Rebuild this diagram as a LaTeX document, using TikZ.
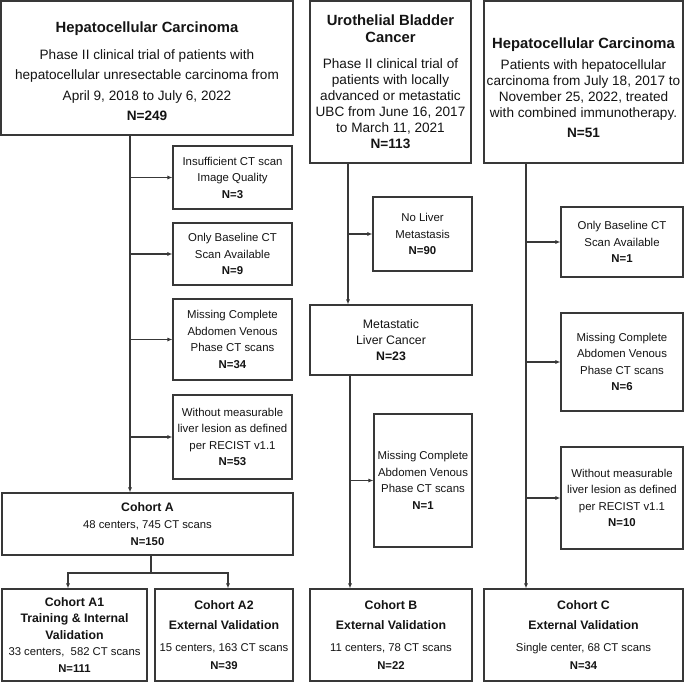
\documentclass[tikz,border=0pt]{standalone}
\usepackage{fontspec}
\setmainfont{Liberation Sans}
\usetikzlibrary{arrows.meta}
\newcommand{\fs}[2]{\fontsize{#1bp}{#2bp}\selectfont}
\tikzset{
  box/.style={draw=black!78, line width=1.1bp, fill=white, inner sep=0pt, align=center, text=black!92},
  txt/.style={inner sep=0pt, align=center, text=black!92},
  conn/.style={draw=black!78, line width=1.1bp},
  arr/.style={conn, -{Latex[length=5bp,width=4bp]}},
  exbox/.style={box, font=\fs{11.4}{16.5}},
}
\begin{document}
\begin{tikzpicture}[x=1bp,y=-1bp]
\useasboundingbox (0,0) rectangle (685,682);
% top boxes
\node[box, minimum width=292bp, minimum height=134bp] (hccL) at (147,68) {};
\node[txt, font=\fs{13.6}{20.5}] (hccLt) at ([yshift=-3bp]hccL.center)
 {{\fs{14.8}{20.5}\bfseries Hepatocellular Carcinoma}\\[6.5bp]
  Phase II clinical trial of patients with\\
  hepatocellular unresectable carcinoma from\\
  April 9, 2018 to July 6, 2022\\
  \bfseries N=249};
\node[box, minimum width=161bp, minimum height=162bp, font=\fs{13.6}{16}] (ubc) at (390.5,82)
 {{\fs{14.8}{16}\bfseries Urothelial Bladder}\\[1bp]
  {\fs{14.8}{16}\bfseries Cancer}\\[10bp]
  Phase II clinical trial of\\
  patients with locally\\
  advanced or metastatic\\
  UBC from June 16, 2017\\
  to March 11, 2021\\
  \bfseries N=113};
\node[box, minimum width=199bp, minimum height=162bp] (hccR) at (583.5,82) {};
\node[txt, font=\fs{13.6}{16}] (hccRt) at ([yshift=-6bp]hccR.center)
 {{\fs{14.8}{16}\bfseries Hepatocellular Carcinoma}\\[5bp]
  Patients with hepatocellular\\
  carcinoma from July 18, 2017 to\\
  November 25, 2022, treated\\
  with combined immunotherapy.\\[4bp]
  \bfseries N=51};
% left exclusions
\node[exbox, minimum width=119bp, minimum height=63bp] (L1) at (232.5,177.5)
 {Insufficient CT scan\\ Image Quality\\ \bfseries N=3};
\node[exbox, minimum width=119bp, minimum height=62bp] (L2) at (232.5,254)
 {Only Baseline CT\\ Scan Available\\ \bfseries N=9};
\node[exbox, minimum width=119bp, minimum height=81bp] (L3) at (232.5,339.5)
 {Missing Complete\\ Abdomen Venous\\ Phase CT scans\\ \bfseries N=34};
\node[exbox, minimum width=119bp, minimum height=84bp] (L4) at (232.5,437)
 {Without measurable\\ liver lesion as defined\\ per RECIST v1.1\\ \bfseries N=53};
% middle
\node[exbox, minimum width=99bp, minimum height=74bp] (U1) at (422.5,234)
 {No Liver\\ Metastasis\\ \bfseries N=90};
\node[box, minimum width=162bp, minimum height=70bp, font=\fs{12.3}{16}] (met) at (391,340)
 {Metastatic\\ Liver Cancer\\ \bfseries N=23};
\node[exbox, minimum width=98bp, minimum height=133bp] (U2) at (423,480.5)
 {Missing Complete\\ Abdomen Venous\\ Phase CT scans\\ \bfseries N=1};
% right exclusions
\node[exbox, minimum width=122bp, minimum height=70bp] (R1) at (622,242)
 {Only Baseline CT\\ Scan Available\\ \bfseries N=1};
\node[exbox, minimum width=122bp, minimum height=98bp] (R2) at (622,362)
 {Missing Complete\\ Abdomen Venous\\ Phase CT scans\\ \bfseries N=6};
\node[exbox, minimum width=122bp, minimum height=102bp] (R3) at (622,498)
 {Without measurable\\ liver lesion as defined\\ per RECIST v1.1\\ \bfseries N=10};
% cohorts
\node[box, minimum width=291bp, minimum height=62bp, font=\fs{11.3}{17}] (cohA) at (147.5,524)
 {{\fs{12.3}{17}\bfseries Cohort A}\\ 48 centers, 745 CT scans\\ \bfseries N=150};
\node[box, minimum width=145bp, minimum height=92bp, font=\fs{11.3}{16.5}] (cohA1) at (74.5,635)
 {{\fs{12.3}{16.5}\bfseries Cohort A1}\\
  {\fs{12.3}{16.5}\bfseries Training \& Internal}\\
  {\fs{12.3}{16.5}\bfseries Validation}\\
  33 centers,\ \ 582 CT scans\\ \bfseries N=111};
\node[box, minimum width=138bp, minimum height=92bp, font=\fs{11.3}{20}] (cohA2) at (224,635)
 {{\fs{12.3}{20}\bfseries Cohort A2}\\
  {\fs{12.3}{20}\bfseries External Validation}\\[2bp]
  15 centers, 163 CT scans\\[-2bp] \bfseries N=39};
\node[box, minimum width=162bp, minimum height=92bp, font=\fs{11.3}{20}] (cohB) at (391,635)
 {{\fs{12.3}{20}\bfseries Cohort B}\\
  {\fs{12.3}{20}\bfseries External Validation}\\[2bp]
  11 centers, 78 CT scans\\[-2bp] \bfseries N=22};
\node[box, minimum width=199bp, minimum height=92bp, font=\fs{11.3}{20}] (cohC) at (583.5,635)
 {{\fs{12.3}{20}\bfseries Cohort C}\\
  {\fs{12.3}{20}\bfseries External Validation}\\[2bp]
  Single center, 68 CT scans\\[-2bp] \bfseries N=34};
% trunks
\coordinate (tL) at (130,0);
\coordinate (tU) at (348,0);
\coordinate (tU2) at (350,0);
\coordinate (tR) at (526,0);
\coordinate (sp) at (151,573);
\coordinate (xA1) at (68,0);
\coordinate (xA2) at (228,0);
\draw[arr] (hccL.south -| tL) -- (cohA.north -| tL);
\foreach \n in {L1,L2,L3,L4} \draw[arr] (\n.west -| tL) -- (\n.west);
\draw[arr] (ubc.south -| tU) -- (met.north -| tU);
\draw[arr] (U1.west -| tU) -- (U1.west);
\draw[arr] (met.south -| tU2) -- (cohB.north -| tU2);
\draw[arr] (U2.west -| tU2) -- (U2.west);
\draw[arr] (hccR.south -| tR) -- (cohC.north -| tR);
\foreach \n in {R1,R2,R3} \draw[arr] (\n.west -| tR) -- (\n.west);
\draw[conn] (cohA.south -| sp) -- (sp);
\draw[arr] (sp) -| (cohA1.north -| xA1);
\draw[arr] (sp) -| (cohA2.north -| xA2);
\end{tikzpicture}
\end{document}
